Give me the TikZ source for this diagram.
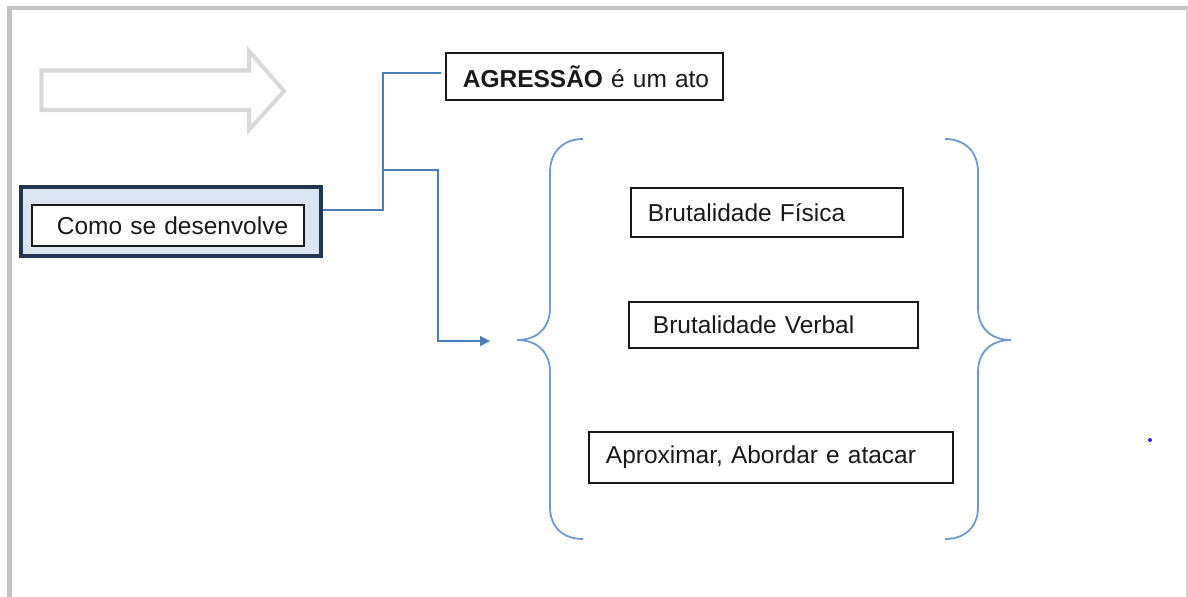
\documentclass[tikz,border=0pt]{standalone}
\usepackage{fontspec}
\setmainfont{Liberation Sans}
\usetikzlibrary{arrows.meta}

\newcommand{\pxl}{0.025cm}
\definecolor{cinzaseta}{HTML}{D9D9D9}
\definecolor{cinzaborda}{HTML}{C3C3C3}
\definecolor{azulfundo}{HTML}{DBE5F1}
\definecolor{azulescuro}{HTML}{1F3552}
\definecolor{azulliga}{HTML}{4A7EBB}
\definecolor{azulchave}{HTML}{6F98CF}

\tikzset{
  caixa/.style={draw=black!90, line width=1pt, fill=white, align=left, inner xsep=0pt, inner ysep=0pt, text=black!90, font=\fontsize{17.4}{20}\selectfont},
  liga/.style={draw=azulliga, line width=1pt},
  chave/.style={draw=azulchave, line width=1.25pt},
}

\begin{document}
\begin{tikzpicture}[x=\pxl, y=-\pxl]

    \useasboundingbox (0,0) rectangle (1188,597);
    \draw [cinzaborda, line width=2.85pt] (9.5,600) -- (9.5,8) -- (1190,8);
    \draw [cinzaborda!70, line width=1pt] (1187,8) -- (1187,600);

    \draw [cinzaseta, line width=2.85pt, line join=miter] (41.5,70.5) -- (249,70.5) -- (249,51) -- (284,91) -- (249,130) -- (249,110) -- (41.5,110) -- cycle;

    \node [draw=azulescuro, fill=azulfundo, line width=2.85pt, minimum width=7.5cm, minimum height=1.725cm, inner sep=0pt] (como) at (171,221.5) {};
    \node [caixa, text width=6.8cm, minimum height=1.025cm] (comotxt) at (168,225.5) {\hspace*{0.625cm}Como se desenvolve};

    \node [caixa, text width=6.925cm, minimum height=1.175cm] (agressao) at (584.5,76.5) {\hspace*{0.425cm}\textbf{AGRESSÃO} é um ato};
    \node [caixa, text width=6.8cm, minimum height=1.225cm] (fisica) at (767,212.5) {\hspace*{0.425cm}Brutalidade Física};
    \node [caixa, text width=7.225cm, minimum height=1.15cm] (verbal) at (773.5,325) {\hspace*{0.6cm}Brutalidade Verbal};
    \node [caixa, text width=9.1cm, minimum height=1.275cm] (aproximar) at (771,457.5) {\hspace*{0.425cm}Aproximar, Abordar e atacar};

    \coordinate (sai) at ([yshift=0.2875cm]como.east);
    \coordinate (junta) at (383,170);
    \coordinate (canto) at (438,341);
    \coordinate (seta) at (490,341);

    \draw [liga] (sai) -| (junta) |- ([xshift=-0.1cm, yshift=0.0875cm]agressao.west);
    \draw [liga, -{Triangle[length=7pt,width=7pt]}] (junta) -| (canto) -- (seta);

    \draw [chave] (583,139) .. controls (563,139) and (550,152) .. (550,172) -- (550,308) .. controls (550,328) and (537,340) .. (517,340) .. controls (537,340) and (550,352) .. (550,372) -- (550,507) .. controls (550,527) and (563,539) .. (583,539);
    \draw [chave] (945,139) .. controls (965,139) and (978,152) .. (978,172) -- (978,308) .. controls (978,328) and (991,340) .. (1011,340) .. controls (991,340) and (978,352) .. (978,372) -- (978,507) .. controls (978,527) and (965,539) .. (945,539);

    \fill [blue!85] (1150,440) circle (2);
\end{tikzpicture}
\end{document}
